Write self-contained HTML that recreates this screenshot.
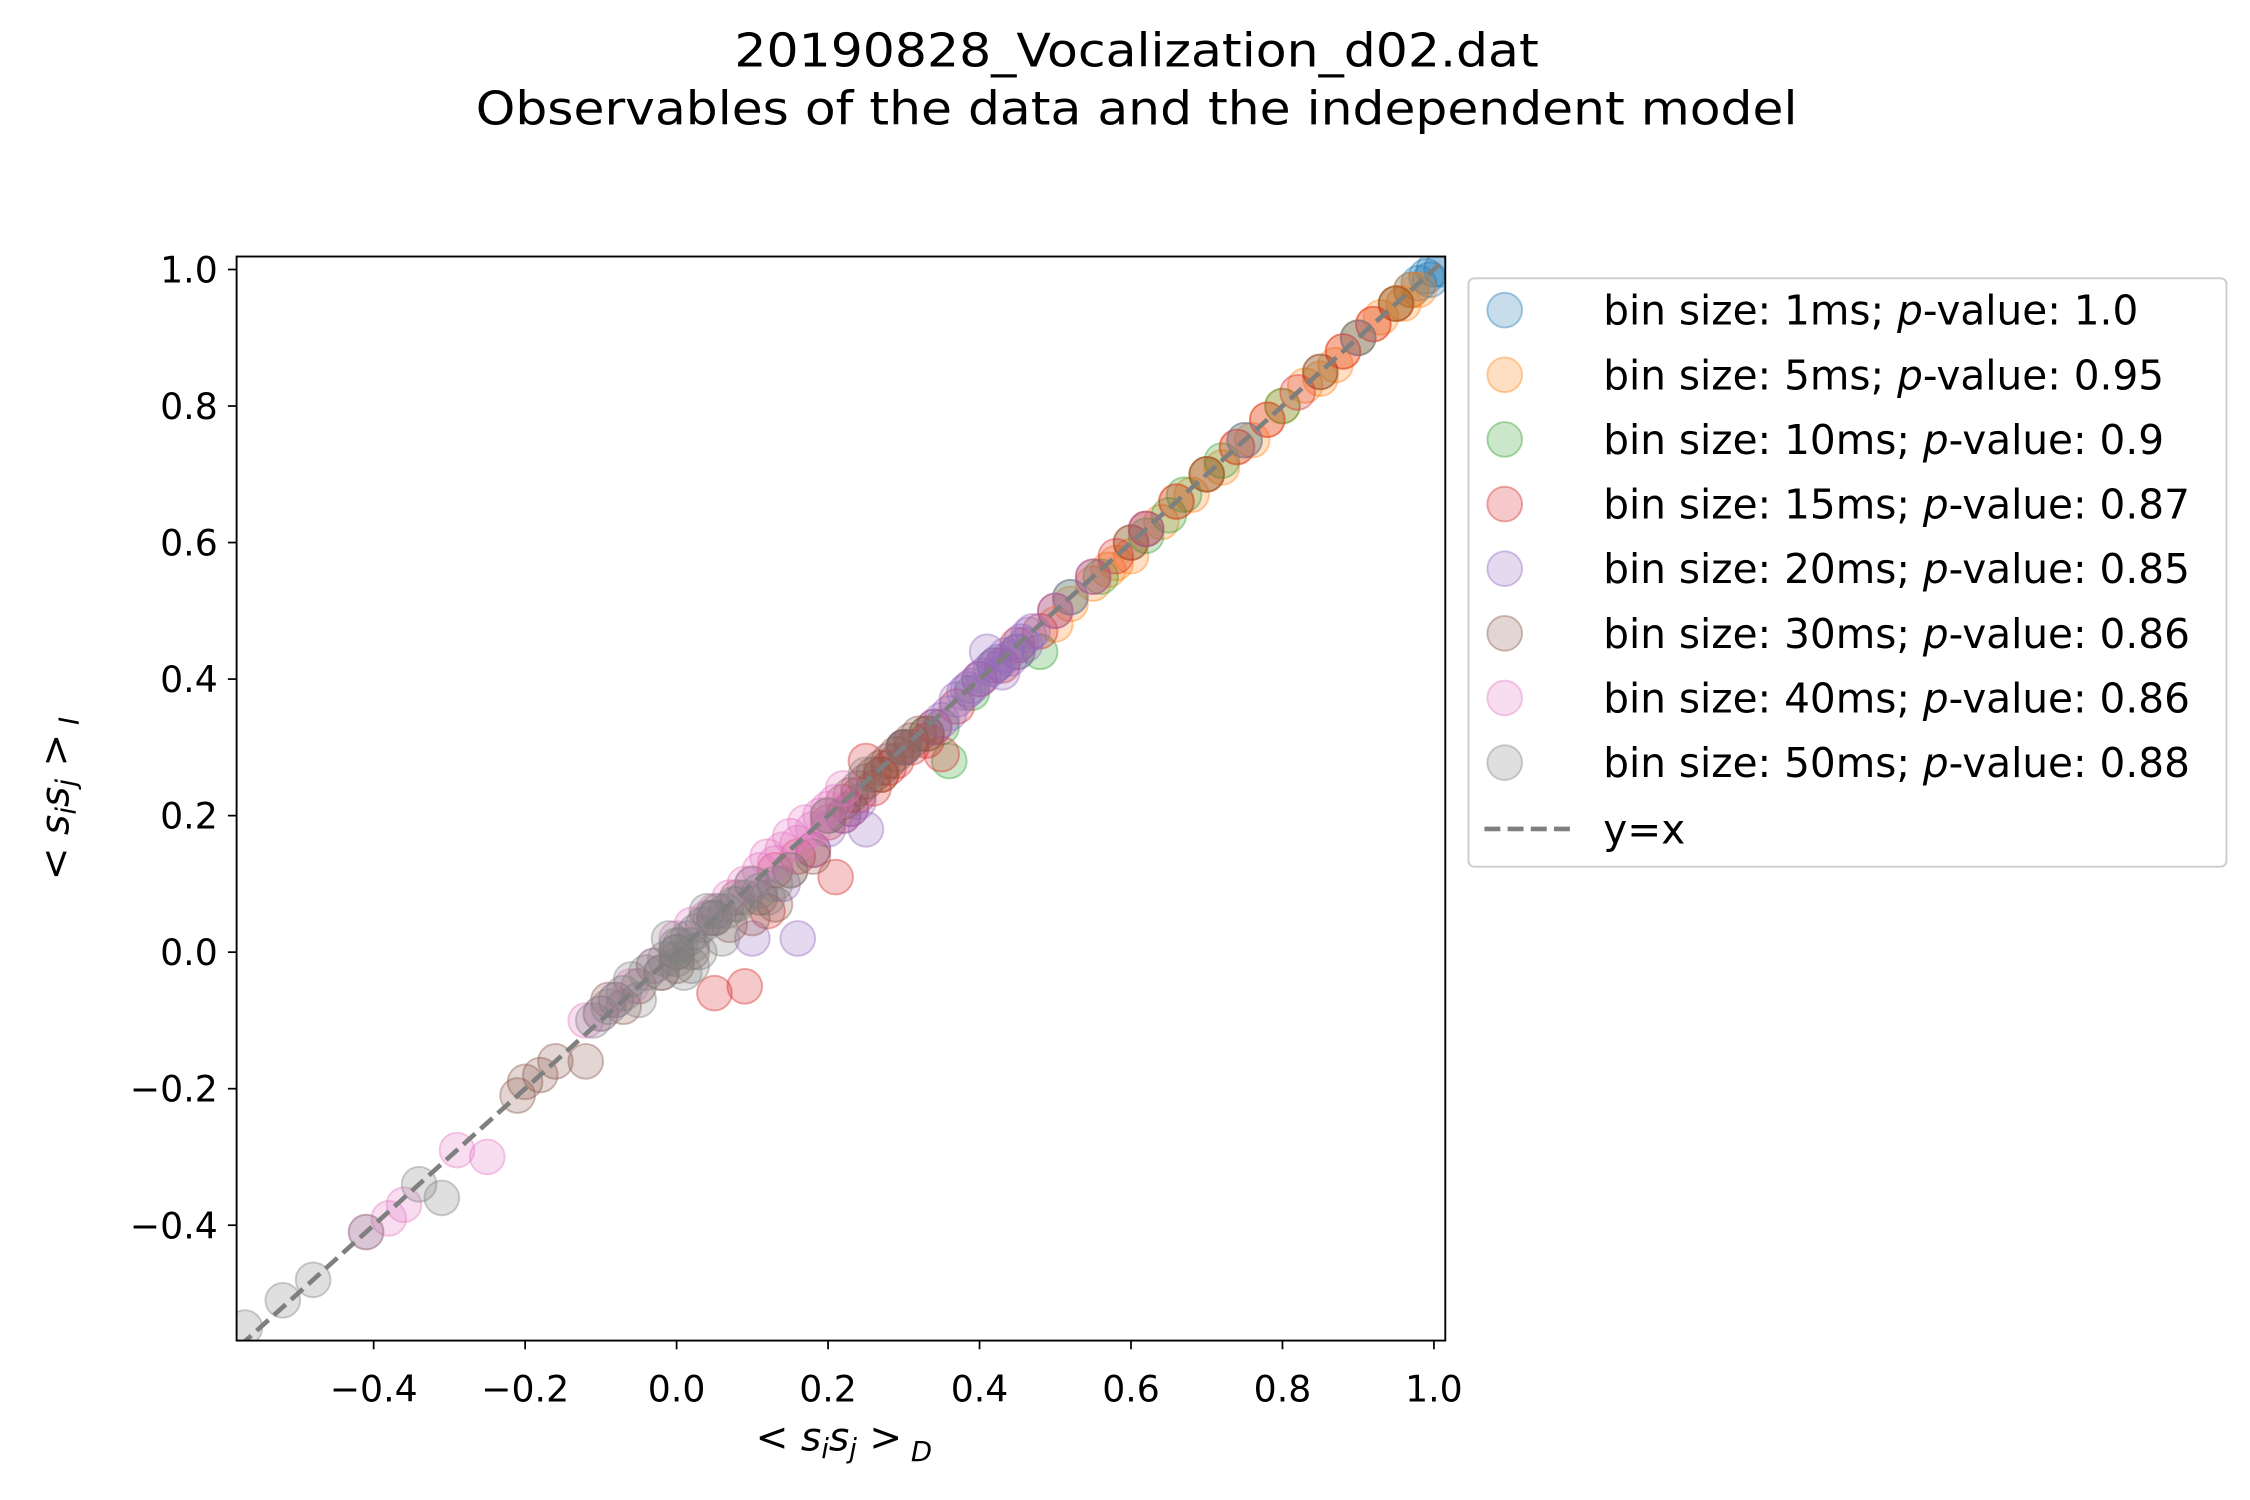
<!DOCTYPE html>
<html><head><meta charset="utf-8"><style>
html,body{margin:0;padding:0;background:#fff;}
svg{display:block;font-family:"DejaVu Sans","Liberation Sans",sans-serif;}
</style></head><body>
<svg id="chart" width="2250" height="1500" viewBox="0 0 1552 1035" xmlns="http://www.w3.org/2000/svg">
<rect width="1552" height="1035" fill="#fff"/>
<text x="784" y="46" font-size="32" text-anchor="middle" textLength="555" lengthAdjust="spacingAndGlyphs">20190828_Vocalization_d02.dat</text>
<text x="784" y="86" font-size="32" text-anchor="middle" textLength="912" lengthAdjust="spacingAndGlyphs">Observables of the data and the independent model</text>
<defs><clipPath id="clip"><rect x="163" y="177" width="834" height="748"/></clipPath></defs>
<g id="marks" clip-path="url(#clip)"></g>
<rect x="163" y="177" width="834" height="748" fill="none" stroke="#000" stroke-width="1.3"/>
<g id="axes"></g>
<text x="582" y="1001" font-size="27" text-anchor="middle">&lt; <tspan font-style="italic">s</tspan><tspan font-style="italic" font-size="19" dy="5">i</tspan><tspan font-style="italic" dy="-5">s</tspan><tspan font-style="italic" font-size="19" dy="5">j</tspan><tspan dy="-5"> &gt;</tspan><tspan font-style="italic" font-size="19" dy="7"> D</tspan></text>
<text transform="translate(47,551) rotate(-90)" font-size="27" text-anchor="middle">&lt; <tspan font-style="italic">s</tspan><tspan font-style="italic" font-size="19" dy="5">i</tspan><tspan font-style="italic" dy="-5">s</tspan><tspan font-style="italic" font-size="19" dy="5">j</tspan><tspan dy="-5"> &gt;</tspan><tspan font-style="italic" font-size="19" dy="7"> I</tspan></text>
<g id="legend">
<rect x="1013" y="192" width="523" height="406" rx="4" fill="#fff" stroke="#ccc" stroke-width="1.3"/>
</g>
</svg>
<script>
const xTicks=[-0.4,-0.2,0.0,0.2,0.4,0.6,0.8,1.0];
const yTicks=[-0.4,-0.2,0.0,0.2,0.4,0.6,0.8,1.0];
const seriesLabels=["bin size: 1ms","bin size: 5ms","bin size: 10ms","bin size: 15ms","bin size: 20ms","bin size: 30ms","bin size: 40ms","bin size: 50ms"];
const pValues=["1.0","0.95","0.9","0.87","0.85","0.86","0.86","0.88"];
const colors=["#1f77b4","#ff7f0e","#2ca02c","#d62728","#9467bd","#8c564b","#e377c2","#7f7f7f"];
const s1x=[0.98,0.99,1.0,1.01,0.97,0.995];
const s1y=[0.98,0.99,1.0,1.0,0.97,0.985];
const s2x=[0.97,0.95,0.93,0.92,0.9,0.88,0.87,0.85,0.83,0.8,0.78,0.76,0.74,0.72,0.7,0.68,0.66,0.64,0.62,0.6,0.58,0.57,0.55,0.52,0.5,0.98,0.96];
const s2y=[0.97,0.95,0.93,0.92,0.9,0.88,0.86,0.84,0.83,0.8,0.78,0.75,0.74,0.71,0.7,0.67,0.66,0.63,0.62,0.58,0.57,0.56,0.54,0.51,0.48,0.97,0.95];
const s3x=[0.48,0.36,0.65,0.7,0.67,0.6,0.45,0.42,0.33,0.3,0.9,0.8,0.75,0.72,0.62,0.56,0.52,0.39,0.35,0.27,0.85,0.95];
const s3y=[0.44,0.28,0.64,0.7,0.67,0.6,0.44,0.42,0.32,0.3,0.9,0.8,0.75,0.72,0.61,0.55,0.52,0.38,0.33,0.26,0.85,0.95];
const s4x=[0.21,0.25,0.3,0.35,0.18,0.16,0.12,0.05,0.09,0.62,0.6,0.55,0.5,0.45,0.4,0.37,0.28,0.22,0.13,0.85,0.82,0.78,0.7,0.95,0.33,0.26,0.24,0.27,0.29,0.31,0.23,0.2,0.66,0.74,0.88,0.92,0.58,0.48,0.43,0.34];
const s4y=[0.11,0.28,0.3,0.29,0.15,0.14,0.06,-0.06,-0.05,0.62,0.6,0.55,0.5,0.45,0.4,0.36,0.27,0.2,0.12,0.85,0.82,0.78,0.7,0.95,0.31,0.24,0.23,0.26,0.28,0.3,0.21,0.19,0.66,0.74,0.88,0.92,0.58,0.47,0.42,0.33];
const s5x=[0.16,0.25,0.22,0.42,0.45,0.44,0.4,0.38,0.47,0.35,0.3,0.1,0.2,0.75,0.9,0.52,0.43,0.41,0.46,0.39,0.37,0.385,0.405,0.415,0.425,0.435,0.455,0.465,0.36,0.34,0.24,0.23,0.14,0.18,0.5,0.55,0.62];
const s5y=[0.02,0.18,0.2,0.42,0.44,0.43,0.4,0.38,0.47,0.34,0.3,0.02,0.18,0.75,0.9,0.52,0.41,0.44,0.45,0.39,0.37,0.385,0.405,0.415,0.425,0.435,0.455,0.465,0.35,0.33,0.22,0.21,0.1,0.15,0.5,0.55,0.62];
const s6x=[-0.21,-0.18,-0.16,-0.12,-0.09,0.0,0.05,0.1,0.13,0.18,0.2,0.27,0.33,0.08,-0.05,0.0,-0.2,0.24,0.3,0.22,0.23,0.25,0.26,0.28,0.29,0.31,0.32,0.15,0.11,0.07,0.02,-0.02,-0.07];
const s6y=[-0.21,-0.18,-0.16,-0.16,-0.07,-0.02,0.05,0.05,0.07,0.14,0.2,0.27,0.32,0.08,-0.05,0.0,-0.19,0.24,0.3,0.22,0.23,0.25,0.26,0.28,0.29,0.31,0.32,0.12,0.08,0.04,0.0,-0.03,-0.08];
const s7x=[-0.41,-0.38,-0.36,-0.29,-0.25,-0.12,-0.08,0.0,0.05,0.1,0.12,0.15,0.2,0.22,0.02,0.07,0.17,-0.03,0.13,0.14,0.16,0.18,0.19,0.11,0.09,0.04,-0.06,-0.1,0.21];
const s7y=[-0.41,-0.39,-0.37,-0.29,-0.3,-0.1,-0.07,0.02,0.06,0.1,0.14,0.17,0.21,0.24,0.04,0.08,0.19,-0.02,0.13,0.15,0.16,0.18,0.2,0.12,0.1,0.05,-0.05,-0.09,0.22];
const s8x=[-0.57,-0.52,-0.48,-0.41,-0.34,-0.31,-0.1,-0.08,-0.06,-0.03,0.0,0.02,0.03,-0.02,0.05,0.08,0.1,0.15,0.12,-0.05,0.01,0.06,0.2,0.25,0.3,0.04,-0.01,-0.09,-0.07,-0.04,-0.015,0.005,0.015,0.025,0.035,0.045,0.055,0.065,0.075,0.09,0.11,0.13,-0.11,0.0,0.02,0.0];
const s8y=[-0.55,-0.51,-0.48,-0.41,-0.34,-0.36,-0.09,-0.07,-0.04,-0.02,0.0,0.01,0.0,-0.03,0.05,0.07,0.1,0.12,0.08,-0.07,-0.03,0.02,0.2,0.26,0.3,0.06,0.02,-0.08,-0.06,-0.03,-0.01,0.01,0.02,0.03,0.04,0.05,0.06,0.06,0.07,0.08,0.09,0.1,-0.1,-0.01,-0.02,0.01];
const seriesX=[s1x,s2x,s3x,s4x,s5x,s6x,s7x,s8x];
const seriesY=[s1y,s2y,s3y,s4y,s5y,s6y,s7y,s8y];

const X0=163,X1=997,Y0=177,Y1=925,XMIN=-0.581,XMAX=1.015,YMIN=-0.569,YMAX=1.019;
function sx(v){return X0+(v-XMIN)/(XMAX-XMIN)*(X1-X0);}
function sy(v){return Y1-(v-YMIN)/(YMAX-YMIN)*(Y1-Y0);}
const NS="http://www.w3.org/2000/svg";
function mk(t,a,p){const e=document.createElementNS(NS,t);for(const k in a)e.setAttribute(k,a[k]);p.appendChild(e);return e;}
const marks=document.getElementById('marks'),axes=document.getElementById('axes'),legend=document.getElementById('legend');
const R=12;
for(let s=0;s<seriesX.length;s++){
  const g=mk('g',{},marks);
  
  
  for(let i=0;i<seriesX[s].length;i++){
    const c=mk('circle',{cx:sx(seriesX[s][i]),cy:sy(seriesY[s][i]),r:R,fill:colors[s],'fill-opacity':0.25,stroke:colors[s],'stroke-opacity':0.4,'stroke-width':1.3},g);
    
    
  }
}
const diag=mk('line',{x1:sx(-0.6),y1:sy(-0.6),x2:sx(1.02),y2:sy(1.02),stroke:'#7f7f7f','stroke-width':3.2,'stroke-dasharray':'11,5'},marks);


xTicks.forEach(v=>{
  const x=sx(v);
  const l=mk('line',{x1:x,x2:x,y1:925,y2:931,stroke:'#000','stroke-width':1.2},axes);
  
  
  const t=mk('text',{x:x,y:967,'font-size':25,'text-anchor':'middle'},axes);
  t.textContent=(v<0?'\u2212':'')+Math.abs(v).toFixed(1);
  
  
});
yTicks.forEach(v=>{
  const y=sy(v);
  const l=mk('line',{x1:157,x2:163,y1:y,y2:y,stroke:'#000','stroke-width':1.2},axes);
  
  
  const t=mk('text',{x:150,y:y+9,'font-size':25,'text-anchor':'end'},axes);
  t.textContent=(v<0?'\u2212':'')+Math.abs(v).toFixed(1);
  
  
});
for(let s=0;s<seriesLabels.length;s++){
  const y=214+s*44.6;
  const c=mk('circle',{cx:1038,cy:y,r:R,fill:colors[s],'fill-opacity':0.25,stroke:colors[s],'stroke-opacity':0.4,'stroke-width':1.3},legend);
  
  
  const t=mk('text',{x:1106,y:y+10,'font-size':28},legend);
  t.innerHTML=seriesLabels[s]+'; <tspan font-style="italic">p</tspan>-value: '+pValues[s];
  
  
}
const ly=572;
const ll=mk('line',{x1:1024,x2:1083,y1:ly,y2:ly,stroke:'#7f7f7f','stroke-width':3.2,'stroke-dasharray':'11,5'},legend);


const lt=mk('text',{x:1106,y:ly+10,'font-size':28},legend);
lt.textContent='y=x';


</script>
</body></html>
